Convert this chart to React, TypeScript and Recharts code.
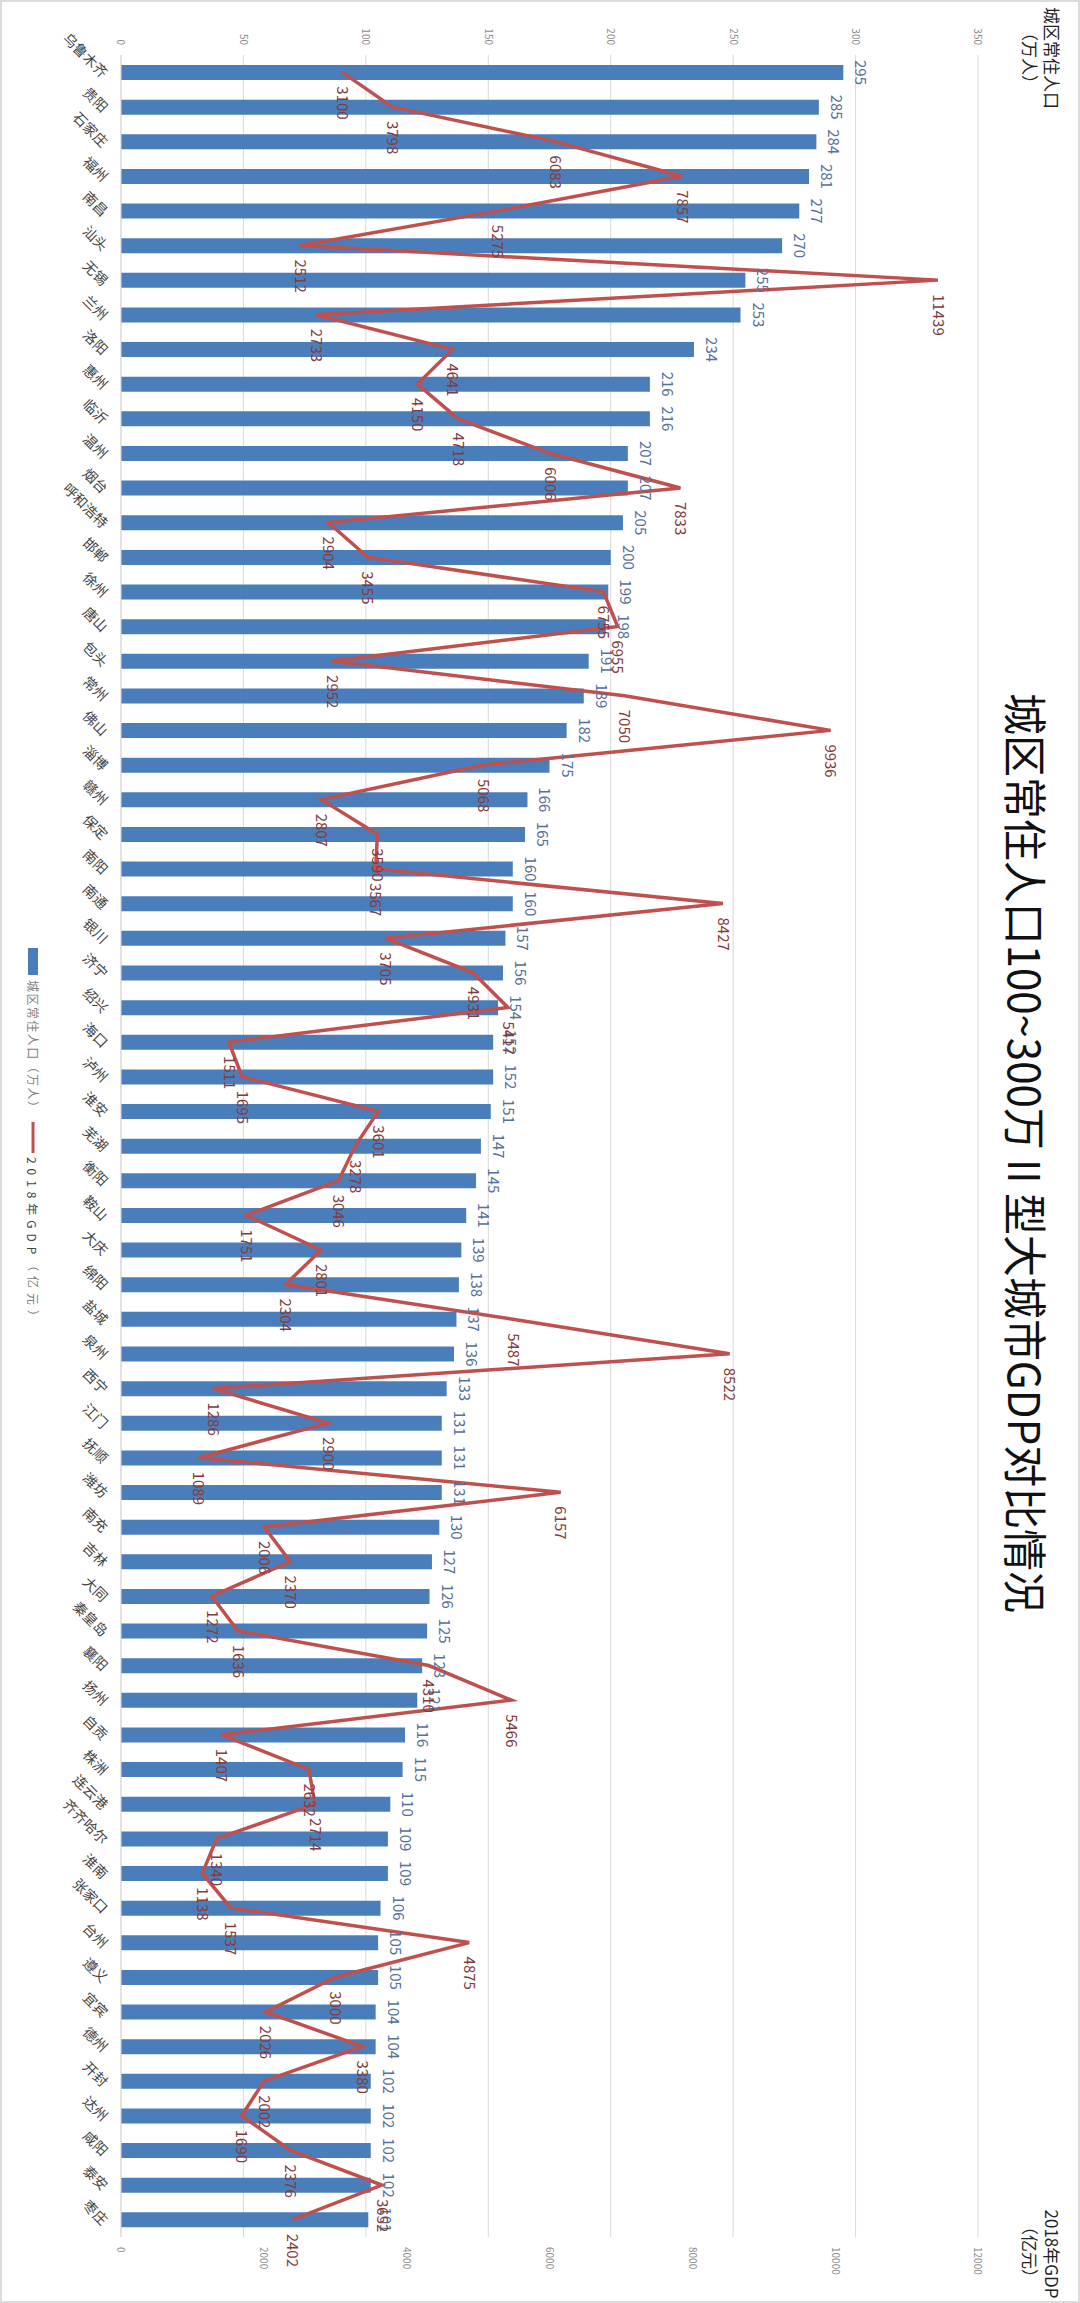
import React from "react";
import { ComposedChart, Bar, Line, XAxis, YAxis, CartesianGrid, LabelList } from "recharts";

// chart is drawn landscape and turned a quarter clockwise to fit the portrait page
const cities = [
  "乌鲁木齐", "贵阳", "石家庄", "福州", "南昌", "汕头", "无锡", "兰州", "洛阳", "惠州",
  "临沂", "温州", "烟台", "呼和浩特", "邯郸", "徐州", "唐山", "包头", "常州", "佛山",
  "淄博", "赣州", "保定", "南阳", "南通", "银川", "济宁", "绍兴", "海口", "泸州",
  "淮安", "芜湖", "衡阳", "鞍山", "大庆", "绵阳", "盐城", "泉州", "西宁", "江门",
  "抚顺", "潍坊", "南充", "吉林", "大同", "秦皇岛", "襄阳", "扬州", "自贡", "株洲",
  "连云港", "齐齐哈尔", "淮南", "张家口", "台州", "遵义", "宜宾", "德州", "开封", "达州",
  "咸阳", "泰安", "枣庄",
];

const population = [
  295, 285, 284, 281, 277, 270, 255, 253, 234, 216,
  216, 207, 207, 205, 200, 199, 198, 191, 189, 182,
  175, 166, 165, 160, 160, 157, 156, 154, 152, 152,
  151, 147, 145, 141, 139, 138, 137, 136, 133, 131,
  131, 131, 130, 127, 126, 125, 123, 121, 116, 115,
  110, 109, 109, 106, 105, 105, 104, 104, 102, 102,
  102, 102, 101,
];

const gdp = [
  3100, 3798, 6083, 7857, 5275, 2512, 11439, 2733, 4641, 4150,
  4718, 6006, 7833, 2904, 3455, 6755, 6955, 2952, 7050, 9936,
  5068, 2807, 3590, 3567, 8427, 3705, 4931, 5417, 1511, 1695,
  3601, 3278, 3046, 1751, 2801, 2304, 5487, 8522, 1286, 2900,
  1089, 6157, 2006, 2370, 1272, 1636, 4310, 5466, 1407, 2632,
  2714, 1340, 1138, 1537, 4875, 3000, 2026, 3380, 2002, 1690,
  2376, 3652, 2402,
];

const popTicks = [0, 50, 100, 150, 200, 250, 300, 350];
const gdpTicks = [0, 2000, 4000, 6000, 8000, 10000, 12000];

const data = cities.map((city, i) => ({ city, population: population[i], gdp: gdp[i] }));

const W = 2303;
const H = 1080;
const FONT = '"Noto Sans CJK SC", "Noto Sans", sans-serif';

const CityTick = (props: any) => {
  const { x, y, payload } = props;
  return (
    <g transform={`translate(${x + 3},${y + 8})`}>
      <text transform="rotate(-45)" textAnchor="end" dy="0.35em" fontSize={14} fill="#444" fontFamily={FONT}>
        {payload.value}
      </text>
    </g>
  );
};

export default function App() {
  return (
    <div style={{ position: "absolute", left: 0, top: 0, width: 1080, height: 2303, overflow: "hidden", background: "#fff" }}>
      <div
        style={{
          position: "absolute",
          left: 0,
          top: 0,
          width: W,
          height: H,
          transformOrigin: "0 0",
          transform: "translate(1080px, 0) rotate(90deg)",
          fontFamily: FONT,
        }}
      >
        <ComposedChart width={W} height={H} data={data} margin={{ top: 102, right: 0, bottom: 43, left: 0 }}>
          <CartesianGrid yAxisId="pop" vertical={false} stroke="#d9d9d9" />
          <XAxis
            dataKey="city"
            interval={0}
            height={78}
            tickLine={false}
            axisLine={{ stroke: "#d9d9d9" }}
            tick={<CityTick />}
          />
          <YAxis
            yAxisId="pop"
            orientation="left"
            width={55}
            domain={[0, 350]}
            ticks={popTicks}
            tickLine={false}
            axisLine={false}
            tickMargin={4}
            tick={{ fontSize: 10, fill: "#8c8c8c" }}
          />
          <YAxis
            yAxisId="gdp"
            orientation="right"
            width={66}
            domain={[0, 12000]}
            ticks={gdpTicks}
            tickLine={false}
            axisLine={false}
            tickMargin={4}
            tick={{ fontSize: 10, fill: "#8c8c8c" }}
          />
          <Bar yAxisId="pop" dataKey="population" fill="#4A7EBB" barSize={15} isAnimationActive={false}>
            <LabelList dataKey="population" position="top" offset={12} fontSize={15} fill="#56719A" />
          </Bar>
          <Line
            yAxisId="gdp"
            type="linear"
            dataKey="gdp"
            stroke="#C0504D"
            strokeWidth={3.5}
            dot={false}
            isAnimationActive={false}
          >
            <LabelList dataKey="gdp" position="right" offset={14} fontSize={15} fill="#833C3B" />
          </Line>
        </ComposedChart>

        <svg width={W} height={H} style={{ position: "absolute", left: 0, top: 0, pointerEvents: "none" }}>
          <text x={1153} y={53} textAnchor="middle" dominantBaseline="central" fontSize={44} fill="#111" fontFamily={FONT} textLength={920} lengthAdjust="spacingAndGlyphs">
            城区常住人口100~300万 II 型大城市GDP对比情况
          </text>
          <text x={58} y={28} textAnchor="middle" dominantBaseline="central" fontSize={17} fill="#222" fontFamily={FONT}>城区常住人口</text>
          <text x={58} y={50} textAnchor="middle" dominantBaseline="central" fontSize={17} fill="#222" fontFamily={FONT}>（万人）</text>
          <text x={2254} y={28} textAnchor="middle" dominantBaseline="central" fontSize={17} fill="#222" fontFamily={FONT}>2018年GDP</text>
          <text x={2252} y={50} textAnchor="middle" dominantBaseline="central" fontSize={17} fill="#222" fontFamily={FONT}>（亿元）</text>
          <rect x={948} y={1042} width={27} height={10} fill="#4A7EBB" />
          <text x={980} y={1047} dominantBaseline="central" fontSize={12} fill="#7f7f7f" fontFamily={FONT} textLength={133} lengthAdjust="spacing">城区常住人口（万人）</text>
          <line x1={1122} y1={1047} x2={1153} y2={1047} stroke="#C0504D" strokeWidth={3} />
          <text x={1157} y={1047} dominantBaseline="central" fontSize={12} fill="#7f7f7f" fontFamily={FONT} textLength={165} lengthAdjust="spacing">
            <tspan fill="#444">2018年GDP</tspan>（亿元）
          </text>
        </svg>
      </div>
      <div style={{ position: "absolute", left: 0, top: 0, width: 1080, height: 2303, boxSizing: "border-box", border: "2px solid #dcdcdc", pointerEvents: "none" }} />
    </div>
  );
}
